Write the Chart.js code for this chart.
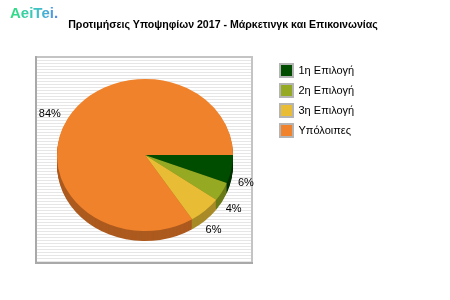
<!DOCTYPE html>
<html>
<head>
<meta charset="utf-8">
<script src="https://cdn.jsdelivr.net/npm/chart.js@4/dist/chart.umd.min.js"></script>
<style>
  html, body { margin: 0; padding: 0; background: #fff; }
  #wrap { position: relative; width: 450px; height: 300px; }
</style>
</head>
<body>
<div id="wrap"><canvas id="pieChart" width="450" height="300"></canvas></div>
<script>
const categories = ['1η Επιλογή', '2η Επιλογή', '3η Επιλογή', 'Υπόλοιπες'];
const shares = [6, 4, 6, 84];
const sliceColors = ['#004d00', '#95aa22', '#e9bc35', '#f0822b'];
const sideColors = ['#003000', '#6a7a18', '#a88a26', '#ad5a1f'];
const chartTitle = 'Προτιμήσεις Υποψηφίων 2017 - Μάρκετινγκ και Επικοινωνίας';

const FONT = "'Liberation Sans', Arial, sans-serif";
const squash = 0.865;   // pie is drawn as an ellipse
const depth = 10;       // 3d side height

// frame, striped background, logo and title
const framePlugin = {
    id: 'frame',
    beforeDraw(chart) {
        const ctx = chart.ctx;
        const x = 35, y = 56, w = 218, h = 208;
        ctx.save();
        ctx.fillStyle = '#ffffff';
        ctx.fillRect(x, y, w, h);
        ctx.fillStyle = '#e6e6e6';
        for (let yy = y + 1; yy < y + h; yy += 3) {
            ctx.fillRect(x, yy, w, 1);
        }
        ctx.strokeStyle = '#c4c4c4';
        ctx.lineWidth = 2;
        ctx.strokeRect(x + 1, y + 1, w - 2, h - 2);
        ctx.fillStyle = '#a9a9a9';
        ctx.fillRect(x, y + h - 2, w, 2);
        ctx.fillRect(x, y, 2, h);

        // logo
        ctx.font = 'bold 15px ' + FONT;
        ctx.textBaseline = 'alphabetic';
        ctx.textAlign = 'left';
        const g = ctx.createLinearGradient(10, 0, 62, 0);
        g.addColorStop(0, '#2fe07c');
        g.addColorStop(0.55, '#3fc0c8');
        g.addColorStop(1, '#5a7ff0');
        ctx.fillStyle = g;
        ctx.fillText('AeiTei.', 10, 18);

        // title
        ctx.font = 'bold 10.6px ' + FONT;
        ctx.fillStyle = '#000';
        ctx.textAlign = 'center';
        ctx.textBaseline = 'middle';
        ctx.fillText(chartTitle, 223, 25);
        ctx.restore();
    }
};

// ellipse + 3d side + percent labels
const pie3dPlugin = {
    id: 'pie3d',
    beforeDatasetsDraw(chart) {
        const ctx = chart.ctx;
        const arcs = chart.getDatasetMeta(0).data;
        ctx.save();
        for (let d = depth; d >= 1; d--) {
            arcs.forEach((arc, i) => {
                const p = arc.getProps(['x', 'y', 'startAngle', 'endAngle', 'outerRadius'], true);
                ctx.save();
                ctx.translate(p.x, p.y + d);
                ctx.scale(1, squash);
                ctx.beginPath();
                ctx.moveTo(0, 0);
                ctx.arc(0, 0, p.outerRadius, p.startAngle, p.endAngle);
                ctx.closePath();
                ctx.fillStyle = sideColors[i];
                ctx.fill();
                ctx.restore();
            });
        }
        ctx.restore();
        const p0 = arcs[0];
        ctx.save();
        ctx.translate(p0.x, p0.y);
        ctx.scale(1, squash);
        ctx.translate(-p0.x, -p0.y);
    },
    afterDatasetsDraw(chart) {
        const ctx = chart.ctx;
        ctx.restore();
        const arcs = chart.getDatasetMeta(0).data;
        const total = shares.reduce((a, b) => a + b, 0);
        ctx.save();
        ctx.font = '11px ' + FONT;
        ctx.fillStyle = '#000';
        ctx.textBaseline = 'middle';
        arcs.forEach((arc, i) => {
            const mid = (arc.startAngle + arc.endAngle) / 2;
            const c = Math.cos(mid), s = Math.sin(mid);
            let lx = arc.x + (arc.outerRadius + 8) * c;
            let ly = arc.y + (arc.outerRadius * squash + 10) * s;
            if (s > 0) {
                ly += depth + 2;
                lx -= 7 * s;
            }
            ctx.textAlign = c >= 0 ? 'left' : 'right';
            ctx.fillText(Math.round(shares[i] / total * 100) + '%', lx, ly);
        });
        ctx.restore();
    }
};

new Chart(document.getElementById('pieChart').getContext('2d'), {
    type: 'pie',
    data: {
        labels: categories,
        datasets: [{
            data: shares,
            backgroundColor: sliceColors,
            borderWidth: 0,
            radius: 88
        }]
    },
    options: {
        responsive: false,
        animation: false,
        rotation: 90,
        layout: {
            padding: { left: 17, right: 91, top: 57, bottom: 47 }
        },
        plugins: {
            tooltip: { enabled: false },
            title: { display: false },
            legend: {
                position: 'right',
                align: 'start',
                fullSize: false,
                maxWidth: 86,
                labels: {
                    boxWidth: 13,
                    boxHeight: 13,
                    padding: 7,
                    color: '#000',
                    font: { family: FONT, size: 11 },
                    generateLabels(chart) {
                        return categories.map((c, i) => ({
                            text: c,
                            fillStyle: sliceColors[i],
                            strokeStyle: '#b4b4b4',
                            lineWidth: 2,
                            hidden: false,
                            index: i
                        }));
                    }
                }
            }
        }
    },
    plugins: [framePlugin, pie3dPlugin]
});
</script>
</body>
</html>
